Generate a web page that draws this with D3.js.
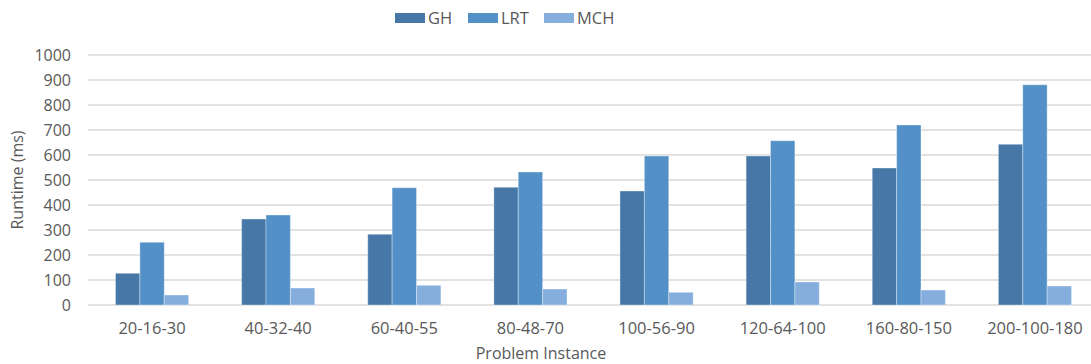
<!DOCTYPE html>
<html>
<head>
<meta charset="utf-8">
<script src="https://cdn.jsdelivr.net/npm/d3@7"></script>
<style>
  body { margin: 0; background: #fff; }
  text { font-family: "Open Sans", "Liberation Sans", sans-serif; fill: #595959; }
</style>
</head>
<body>
<div id="chart"></div>
<script>
const categories = ["20-16-30", "40-32-40", "60-40-55", "80-48-70", "100-56-90", "120-64-100", "160-80-150", "200-100-180"];
const seriesNames = ["GH", "LRT", "MCH"];
const ghValues  = [127, 344, 283, 471, 456, 596, 548, 643];
const lrtValues = [251, 360, 469, 532, 596, 657, 720, 881];
const mchValues = [40, 68, 79, 64, 51, 92, 60, 76];
const yTicks = [0, 100, 200, 300, 400, 500, 600, 700, 800, 900, 1000];
const colors = ["#4677a6", "#5390c7", "#85aedc"];

const width = 1091, height = 364;
const margin = {left: 89, right: -7, top: 55, bottom: 59};

let svg = d3.select("#chart").append("svg")
    .attr("width", width)
    .attr("height", height);

let x0 = d3.scaleBand()
    .domain(categories)
    .range([margin.left, width - margin.right])
    .paddingInner(0.42)
    .paddingOuter(0.21);

let x1 = d3.scaleBand()
    .domain(seriesNames)
    .range([0, x0.bandwidth()]);

let y = d3.scaleLinear()
    .domain([0, 1000])
    .range([height - margin.bottom, margin.top]);

let color = d3.scaleOrdinal().domain(seriesNames).range(colors);

// gridlines
svg.append("g")
    .selectAll("line")
    .data(yTicks)
    .enter()
    .append("line")
    .attr("x1", margin.left - 1)
    .attr("x2", width - margin.right)
    .attr("y1", d => y(d))
    .attr("y2", d => y(d))
    .attr("stroke", "#d9d9d9")
    .attr("stroke-width", 1.5);

// y tick labels
svg.append("g")
    .selectAll("text")
    .data(yTicks)
    .enter()
    .append("text")
    .attr("x", 71)
    .attr("y", d => y(d))
    .attr("dy", "0.35em")
    .style("text-anchor", "end")
    .style("font-size", "16px")
    .text(d => d);

let rows = categories.map((c, i) => ({cat: c, vals: [ghValues[i], lrtValues[i], mchValues[i]]}));

let groups = svg.append("g")
    .selectAll("g")
    .data(rows)
    .enter()
    .append("g")
    .attr("transform", d => `translate(${x0(d.cat)},0)`);

groups.selectAll("rect")
    .data(d => d.vals.map((v, j) => ({name: seriesNames[j], value: v})))
    .enter()
    .append("rect")
    .attr("x", d => x1(d.name))
    .attr("y", d => y(d.value))
    .attr("width", x1.bandwidth())
    .attr("height", d => y(0) - y(d.value))
    .attr("fill", d => color(d.name))
    .attr("stroke", "#ffffff")
    .attr("stroke-opacity", 0.35)
    .attr("stroke-width", 1);

// x labels
svg.append("g")
    .selectAll("text")
    .data(categories)
    .enter()
    .append("text")
    .attr("x", d => x0(d) + x0.bandwidth() / 2)
    .attr("y", 334)
    .style("text-anchor", "middle")
    .style("font-size", "16.5px")
    .text(d => d);

// axis titles
svg.append("text")
    .attr("x", 541)
    .attr("y", 359)
    .style("text-anchor", "middle")
    .style("font-size", "16px")
    .text("Problem Instance");

svg.append("text")
    .attr("transform", `translate(23, ${y(500)}) rotate(-90)`)
    .style("text-anchor", "middle")
    .style("font-size", "16px")
    .text("Runtime (ms)");

// legend
let legendX = [395, 468, 544];
let legend = svg.append("g")
    .selectAll("g")
    .data(seriesNames)
    .enter()
    .append("g")
    .attr("transform", (d, i) => `translate(${legendX[i]}, 13)`);

legend.append("rect")
    .attr("width", 30)
    .attr("height", 10)
    .attr("fill", d => color(d));

legend.append("text")
    .attr("x", 33)
    .attr("y", 5)
    .attr("dy", "0.35em")
    .style("font-size", "16.5px")
    .text(d => d);
</script>
</body>
</html>
